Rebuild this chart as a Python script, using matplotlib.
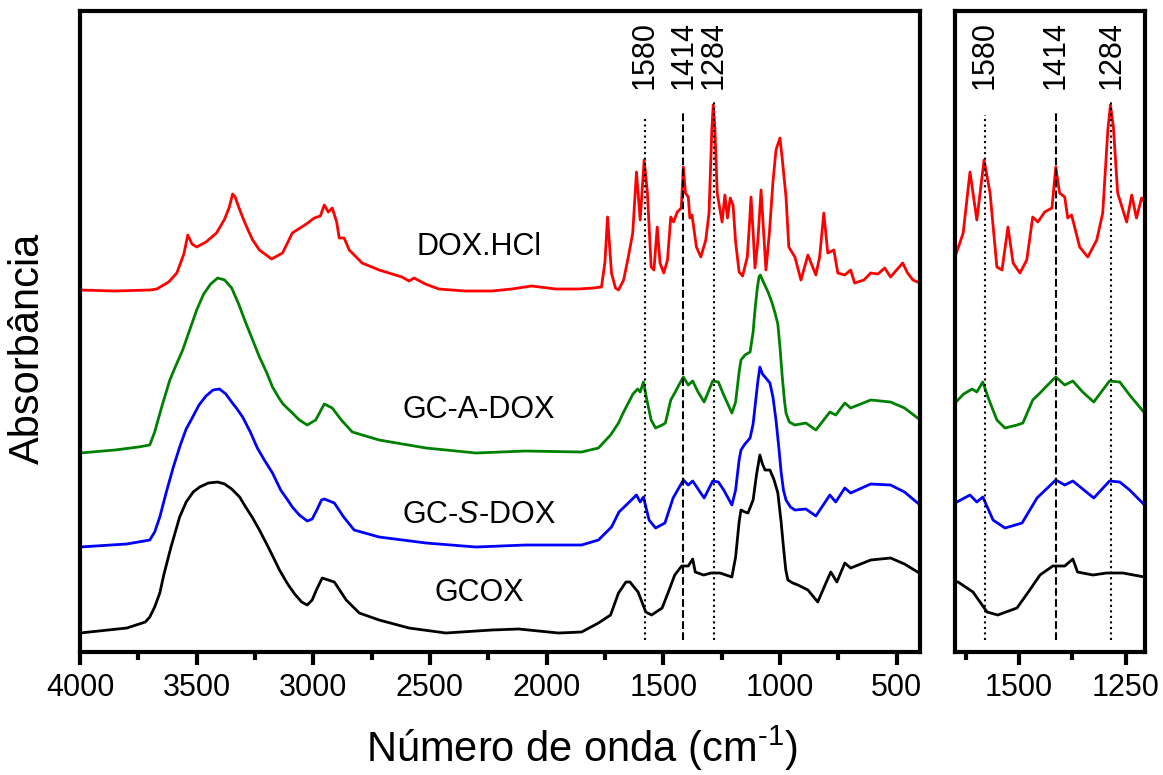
import matplotlib

matplotlib.use("Agg")

import matplotlib.pyplot as plt
from matplotlib.ticker import MultipleLocator

# FTIR spectra (wavenumber in cm-1, offset absorbance)
DOX_WN = [4000, 3850, 3700, 3671, 3620, 3585, 3555, 3538, 3520, 3500, 3460, 3415,
          3400, 3380, 3360, 3346, 3335, 3320, 3300, 3280, 3260, 3231, 3179, 3132,
          3090, 3030, 2996, 2970, 2953, 2936, 2919, 2900, 2889, 2868, 2846, 2791,
          2718, 2620, 2590, 2568, 2520, 2462, 2350, 2235, 2150, 2064, 1960, 1863,
          1800, 1765, 1750, 1739, 1730, 1722, 1705, 1692, 1670, 1650, 1631, 1615,
          1599, 1582, 1568, 1552, 1540, 1526, 1514, 1498, 1482, 1468, 1456, 1440,
          1423, 1414, 1405, 1393, 1386, 1377, 1358, 1339, 1318, 1304, 1292, 1286,
          1279, 1269, 1248, 1236, 1225, 1213, 1201, 1190, 1175, 1160, 1140, 1130,
          1124, 1115, 1107, 1095, 1081, 1070, 1060, 1045, 1030, 1017, 1000, 991,
          974, 962, 936, 910, 880, 846, 830, 812, 795, 769, 752, 722, 697, 680, 640,
          611, 580, 551, 526, 474, 453, 430, 410]
DOX_ABS = [3.62, 3.61, 3.62, 3.63, 3.70, 3.79, 3.98, 4.17, 4.08, 4.05, 4.10, 4.19,
           4.25, 4.33, 4.45, 4.58, 4.55, 4.45, 4.33, 4.22, 4.12, 4.02, 3.93, 3.99,
           4.19, 4.28, 4.34, 4.36, 4.47, 4.40, 4.44, 4.30, 4.14, 4.14, 4.02, 3.89,
           3.82, 3.75, 3.71, 3.74, 3.68, 3.63, 3.61, 3.61, 3.63, 3.66, 3.63, 3.63,
           3.64, 3.65, 3.90, 4.35, 4.05, 3.79, 3.64, 3.62, 3.72, 3.95, 4.19, 4.80,
           4.32, 4.92, 4.59, 3.85, 3.82, 4.25, 3.89, 3.79, 3.92, 4.35, 4.30, 4.40,
           4.44, 4.85, 4.59, 4.55, 4.34, 4.37, 4.05, 3.95, 4.12, 4.39, 5.22, 5.47,
           5.25, 4.59, 4.30, 4.57, 4.34, 4.54, 4.47, 4.10, 3.80, 3.76, 3.95, 4.30,
           4.55, 4.20, 3.84, 4.10, 4.62, 4.20, 3.82, 4.20, 4.70, 5.02, 5.14, 4.95,
           4.55, 4.05, 3.95, 3.72, 3.97, 3.77, 3.95, 4.39, 3.99, 4.02, 3.79, 3.77,
           3.82, 3.69, 3.72, 3.79, 3.78, 3.84, 3.75, 3.89, 3.79, 3.72, 3.70]

GCA_WN = [4000, 3850, 3750, 3701, 3680, 3650, 3615, 3590, 3560, 3530, 3500, 3470,
          3440, 3410, 3380, 3350, 3320, 3291, 3260, 3231, 3201, 3175, 3150, 3130,
          3090, 3060, 3026, 2990, 2953, 2919, 2880, 2833, 2718, 2517, 2303, 2090,
          1850, 1778, 1726, 1692, 1670, 1650, 1630, 1610, 1599, 1585, 1573, 1552,
          1533, 1505, 1491, 1468, 1451, 1433, 1414, 1393, 1374, 1351, 1325, 1304,
          1288, 1264, 1241, 1206, 1190, 1175, 1167, 1150, 1128, 1115, 1107, 1098,
          1090, 1084, 1075, 1065, 1051, 1035, 1021, 1009, 1000, 990, 980, 974, 960,
          936, 889, 846, 786, 761, 722, 697, 611, 526, 466, 410]
GCA_ABS = [1.99, 2.02, 2.05, 2.07, 2.20, 2.45, 2.72, 2.86, 3.02, 3.22, 3.42, 3.58,
           3.68, 3.74, 3.72, 3.64, 3.48, 3.30, 3.12, 2.95, 2.80, 2.65, 2.55, 2.48,
           2.39, 2.32, 2.27, 2.32, 2.48, 2.44, 2.32, 2.20, 2.12, 2.04, 1.99, 2.01,
           2.00, 2.04, 2.17, 2.29, 2.40, 2.49, 2.58, 2.63, 2.60, 2.70, 2.55, 2.32,
           2.24, 2.27, 2.29, 2.52, 2.59, 2.67, 2.75, 2.67, 2.71, 2.60, 2.50, 2.62,
           2.71, 2.70, 2.57, 2.39, 2.50, 2.80, 2.92, 2.97, 3.00, 3.20, 3.42, 3.62,
           3.75, 3.77, 3.72, 3.67, 3.60, 3.50, 3.39, 3.28, 3.05, 2.75, 2.50, 2.39,
           2.30, 2.27, 2.29, 2.22, 2.40, 2.37, 2.49, 2.44, 2.52, 2.50, 2.44, 2.34]

GCS_WN = [4000, 3800, 3701, 3680, 3658, 3630, 3600, 3570, 3545, 3517, 3490, 3460,
          3430, 3402, 3375, 3350, 3330, 3303, 3270, 3240, 3210, 3175, 3140, 3110,
          3090, 3060, 3026, 3005, 2985, 2965, 2953, 2910, 2870, 2825, 2718, 2517,
          2303, 2090, 1850, 1778, 1722, 1690, 1650, 1615, 1599, 1585, 1561, 1533,
          1493, 1458, 1414, 1393, 1374, 1325, 1288, 1264, 1241, 1206, 1190, 1175,
          1167, 1150, 1128, 1115, 1107, 1095, 1086, 1075, 1064, 1043, 1030, 1017,
          1005, 995, 985, 974, 955, 936, 889, 846, 786, 761, 722, 697, 611, 526,
          466, 410]
GCS_ABS = [1.05, 1.08, 1.12, 1.20, 1.35, 1.60, 1.85, 2.07, 2.23, 2.35, 2.47, 2.56,
           2.62, 2.63, 2.58, 2.50, 2.44, 2.35, 2.20, 2.04, 1.92, 1.79, 1.62, 1.52,
           1.45, 1.37, 1.31, 1.33, 1.42, 1.52, 1.53, 1.49, 1.35, 1.22, 1.15, 1.09,
           1.05, 1.07, 1.07, 1.12, 1.25, 1.40, 1.49, 1.57, 1.50, 1.55, 1.32, 1.24,
           1.29, 1.54, 1.72, 1.67, 1.71, 1.54, 1.71, 1.70, 1.62, 1.47, 1.62, 1.92,
           2.02, 2.08, 2.14, 2.28, 2.45, 2.70, 2.85, 2.78, 2.75, 2.69, 2.55, 2.32,
           2.05, 1.80, 1.62, 1.52, 1.45, 1.42, 1.43, 1.36, 1.57, 1.50, 1.64, 1.59,
           1.68, 1.67, 1.60, 1.49]

GCOX_WN = [4000, 3799, 3720, 3701, 3680, 3658, 3640, 3610, 3573, 3545, 3515, 3487,
           3450, 3410, 3380, 3350, 3316, 3290, 3260, 3231, 3200, 3170, 3145, 3110,
           3080, 3050, 3026, 3005, 2985, 2962, 2910, 2859, 2803, 2718, 2590, 2432,
           2235, 2120, 1949, 1850, 1778, 1726, 1692, 1660, 1643, 1608, 1575, 1550,
           1505, 1475, 1451, 1421, 1393, 1374, 1363, 1327, 1295, 1257, 1206, 1190,
           1175, 1167, 1150, 1137, 1115, 1100, 1086, 1075, 1064, 1043, 1025, 1009,
           995, 985, 975, 966, 945, 923, 880, 838, 803, 782, 756, 722, 697, 611,
           526, 466, 410]
GCOX_ABS = [0.19, 0.24, 0.30, 0.35, 0.45, 0.59, 0.78, 1.05, 1.35, 1.50, 1.60, 1.65,
            1.69, 1.70, 1.68, 1.63, 1.55, 1.45, 1.34, 1.22, 1.08, 0.94, 0.82, 0.68,
            0.58, 0.50, 0.47, 0.52, 0.63, 0.74, 0.70, 0.52, 0.39, 0.32, 0.24, 0.19,
            0.22, 0.23, 0.19, 0.20, 0.29, 0.37, 0.59, 0.70, 0.70, 0.60, 0.40, 0.37,
            0.44, 0.62, 0.77, 0.86, 0.86, 0.93, 0.80, 0.77, 0.79, 0.79, 0.75, 0.95,
            1.30, 1.42, 1.40, 1.39, 1.52, 1.78, 1.97, 1.88, 1.82, 1.82, 1.72, 1.59,
            1.30, 1.05, 0.82, 0.72, 0.69, 0.67, 0.62, 0.50, 0.69, 0.80, 0.70, 0.89,
            0.84, 0.92, 0.94, 0.88, 0.80]

SERIES = [
    ("GCOX", GCOX_WN, GCOX_ABS, "black"),
    ("GC-$\\mathit{S}$-DOX", GCS_WN, GCS_ABS, "#0000ff"),
    ("GC-A-DOX", GCA_WN, GCA_ABS, "#008000"),
    ("DOX.HCl", DOX_WN, DOX_ABS, "#ff0000"),
]
LABEL_POS = [(2290, 0.59), (2290, 1.37), (2290, 2.42), (2290, 4.05)]

PEAKS = [1580, 1414, 1284]
PEAK_STYLES = [":", "--", ":"]

plt.rcParams["font.family"] = ["Liberation Sans", "DejaVu Sans"]
plt.rcParams["mathtext.fontset"] = "custom"
plt.rcParams["mathtext.rm"] = "Liberation Sans"
plt.rcParams["mathtext.it"] = "Liberation Sans:italic"


def style_axis(ax, xlim, major, minor):
    ax.set_xlim(*xlim)
    ax.set_ylim(0, 6.41)
    ax.xaxis.set_major_locator(MultipleLocator(major))
    ax.xaxis.set_minor_locator(MultipleLocator(minor))
    ax.set_yticks([])
    for spine in ax.spines.values():
        spine.set_linewidth(3)
    ax.tick_params(axis="x", which="major", direction="out", length=9, width=3,
                   labelsize=22, pad=6)
    ax.tick_params(axis="x", which="minor", direction="out", length=6, width=3)


def draw_panel(ax, tops, label_y):
    for (name, wn, ab, color) in SERIES:
        ax.plot(wn, ab, color=color, linewidth=2.0)
    for peak, ls, top in zip(PEAKS, PEAK_STYLES, tops):
        ax.vlines(peak, 0.12, top, colors="black", linestyles=ls, linewidth=1.5)
        ax.text(peak, label_y, str(peak), rotation=90, ha="center", va="bottom",
                fontsize=22)


def main():
    fig = plt.figure(figsize=(11.63, 7.75), dpi=100)
    ax1 = fig.add_axes([0.0688, 0.1587, 0.7222, 0.8271])
    ax2 = fig.add_axes([0.8212, 0.1587, 0.1633, 0.8271])

    draw_panel(ax1, [5.35, 5.42, 5.50], 5.63)
    for (name, wn, ab, color), (x, y) in zip(SERIES, LABEL_POS):
        ax1.text(x, y, name, ha="center", va="center", fontsize=22)
    style_axis(ax1, (4000, 400), 500, 250)

    draw_panel(ax2, [5.37, 5.42, 5.52], 5.63)
    style_axis(ax2, (1650, 1205), 250, 125)

    fig.text(0.024, 0.551, "Absorbância", rotation=90, ha="center", va="center",
             fontsize=30)
    fig.text(0.5, 0.035, "Número de onda (cm$^{\\text{-}1}$)", ha="center",
             va="center", fontsize=30)
    fig.savefig("out.png", dpi=100)
    plt.close(fig)


if __name__ == "__main__":
    main()
